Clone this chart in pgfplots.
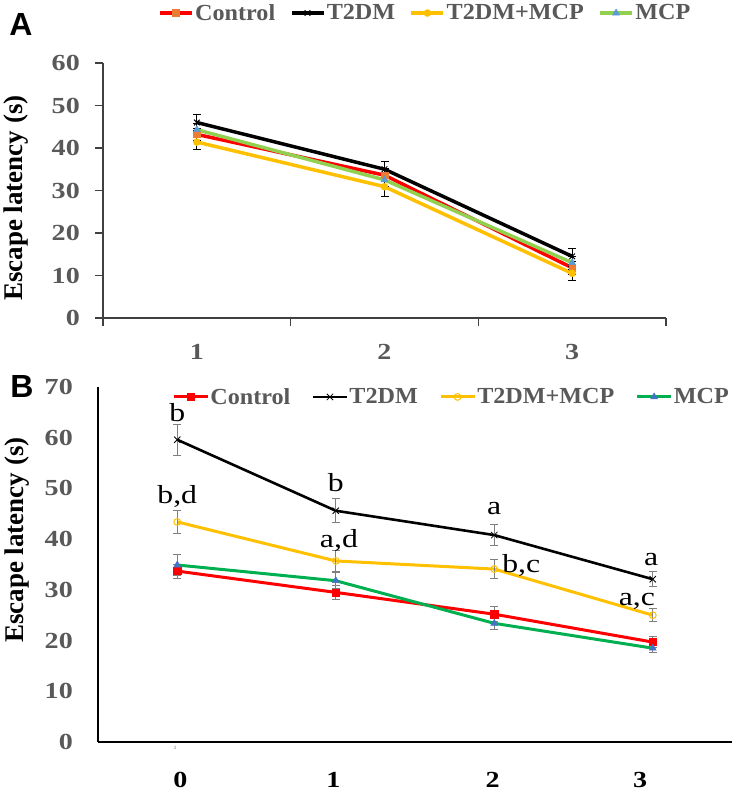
\documentclass[border=0pt]{standalone}
\usepackage{fontspec}
\setmainfont{Liberation Serif}
\setsansfont{Liberation Sans}
\newfontfamily\wide[FakeStretch=1.22]{Liberation Serif}
\newfontfamily\legf[FakeStretch=1.05]{Liberation Serif}
\usepackage{pgfplots}
\pgfplotsset{compat=1.18}
\definecolor{txtgray}{HTML}{595959}
\definecolor{axgray}{HTML}{404040}
\definecolor{cRed}{HTML}{FF0000}
\definecolor{cOrange}{HTML}{ED7D31}
\definecolor{cGold}{HTML}{FFC000}
\definecolor{cLGreen}{HTML}{92D050}
\definecolor{cLBlue}{HTML}{5B9BD5}
\definecolor{cGreen}{HTML}{00B050}
\definecolor{cBlue}{HTML}{4472C4}
\definecolor{errgray}{HTML}{7F7F7F}
\begin{document}
\begin{tikzpicture}[x=1pt,y=1pt]
\useasboundingbox (0,0) rectangle (735,791);
\node[font=\sffamily\bfseries\fontsize{32}{32}\selectfont, inner sep=0pt] at (21,766) {A};
\node[font=\sffamily\bfseries\fontsize{32}{32}\selectfont, inner sep=0pt] at (22,405) {B};
\node[font=\fontsize{5}{5}\selectfont, text=txtgray, inner sep=0pt] at (175,43) {1};

% ---------------- Panel A ----------------
\begin{axis}[
  at={(103pt,473pt)}, anchor=south west, scale only axis,
  width=563pt, height=255pt,
  xmin=0.5, xmax=3.5, ymin=0, ymax=60,
  axis lines*=left,
  axis line style={draw=axgray, line width=1.3pt},
  tick align=outside, major tick length=8pt,
  tick style={draw=axgray, line width=1.3pt},
  xtick={0.5,1.5,2.5,3.5}, xticklabels={,,,},
  extra x ticks={1,2,3}, extra x tick labels={1,2,3},
  extra x tick style={tick style={draw=none}},
  ytick={0,10,20,30,40,50,60},
  /pgf/number format/assume math mode=true,
  ticklabel style={font=\wide\bfseries\fontsize{23}{23}\selectfont, text=txtgray},
  xticklabel style={anchor=center, inner sep=0pt, yshift=-26pt},
  yticklabel style={anchor=east, inner sep=0pt, xshift=-15pt},
  ylabel={Escape latency (s)},
  ylabel style={font=\bfseries\fontsize{27}{27}\selectfont, inner sep=0pt, at={(rel axis cs:-0.155,0.47)}, anchor=center},
  clip=false,
  legend columns=4,
  legend style={at={(rel axis cs:0.0977,1.196)}, anchor=west, draw=none, fill=none,
    inner sep=0pt, font=\legf\bfseries\fontsize{23}{23}\selectfont, text=txtgray,
    nodes={inner sep=1.5pt},
    /tikz/every even column/.append style={column sep=13pt}},
  legend image code/.code={\draw[#1, mark repeat=2, mark phase=2] plot coordinates {(0pt,0pt) (16pt,0pt) (32pt,0pt)};},
  error bars/y dir=both, error bars/y explicit,
  error bars/error bar style={black, line width=0.9pt},
  error bars/error mark options={black, rotate=90, mark size=4pt, line width=0.9pt},
]
\addplot[cRed, line width=3.5pt, mark=square*, mark size=3.3pt, mark options={fill=cOrange, draw=cOrange, line width=0.5pt}]
  coordinates {(1,43.2) +- (0,1.5) (2,33.6) +- (0,1.5) (3,11.8) +- (0,1.5)};
\addlegendentry{Control}
\addplot[black, line width=3.5pt, mark=x, mark size=4pt, mark options={line width=1pt}]
  coordinates {(1,46.0) +- (0,1.9) (2,35.0) +- (0,1.9) (3,14.5) +- (0,1.9)};
\addlegendentry{T2DM}
\addplot[cGold, line width=3.5pt, mark=*, mark size=3.5pt, mark options={fill=cGold, draw=cGold, line width=0.5pt}]
  coordinates {(1,41.4) +- (0,1.8) (2,30.9) +- (0,2.2) (3,10.5) +- (0,1.6)};
\addlegendentry{T2DM+MCP}
\addplot[cLGreen, line width=3.5pt, mark=triangle*, mark size=4pt, mark options={fill=cLBlue, draw=cLBlue, line width=0.5pt}]
  coordinates {(1,44.3) +- (0,1.5) (2,32.5) +- (0,1.5) (3,13.0) +- (0,1.5)};
\addlegendentry{MCP}
\end{axis}

% ---------------- Panel B ----------------
\begin{axis}[
  at={(98pt,49pt)}, anchor=south west, scale only axis,
  width=634pt, height=355pt,
  xmin=-0.5, xmax=3.5, ymin=0, ymax=70,
  axis lines*=left,
  axis line style={draw=black, line width=2pt},
  major tick length=0pt,
  xtick={0.02,0.985,1.99,2.92}, xticklabels={0,1,2,3},
  ytick={0,10,20,30,40,50,60,70},
  /pgf/number format/assume math mode=true,
  ticklabel style={font=\wide\bfseries\fontsize{23}{23}\selectfont, text=txtgray},
  xticklabel style={anchor=center, inner sep=0pt, yshift=-38pt, text=black},
  yticklabel style={anchor=east, inner sep=0pt, xshift=-25pt},
  ylabel={Escape latency (s)},
  ylabel style={font=\bfseries\fontsize{27}{27}\selectfont, inner sep=0pt, at={(rel axis cs:-0.127,0.569)}, anchor=center},
  clip=false,
  legend columns=4,
  legend style={at={(rel axis cs:0.1167,0.972)}, anchor=west, draw=none, fill=none,
    inner sep=0pt, font=\legf\bfseries\fontsize{23}{23}\selectfont, text=txtgray,
    nodes={inner sep=1.2pt},
    /tikz/every even column/.append style={column sep=20pt}},
  legend image code/.code={\draw[#1, mark repeat=2, mark phase=2] plot coordinates {(0pt,0pt) (17pt,0pt) (34pt,0pt)};},
  error bars/y dir=both, error bars/y explicit,
  error bars/error bar style={errgray, line width=0.9pt},
  error bars/error mark options={errgray, rotate=90, mark size=4pt, line width=0.9pt},
]
\addplot[cRed, line width=3pt, mark=square*, mark size=3.6pt, mark options={fill=cRed, draw=cRed, line width=0.5pt}]
  coordinates {(0,33.7) +- (0,1.4) (1,29.5) +- (0,1.3) (2,25.2) +- (0,1.5) (3,19.7) +- (0,1.1)};
\addlegendentry{Control}
\addplot[black, line width=2.6pt, mark=x, mark size=4.5pt, mark options={line width=0.8pt}]
  coordinates {(0,59.6) +- (0,3.0) (1,45.6) +- (0,2.4) (2,40.8) +- (0,2.0) (3,32.1) +- (0,1.5)};
\addlegendentry{T2DM}
\addplot[cGold, line width=3pt, mark=o, mark size=3.4pt, mark options={fill=white, draw=cGold, line width=1pt}]
  coordinates {(0,43.4) +- (0,2.2) (1,35.7) +- (0,2.0) (2,34.1) +- (0,1.8) (3,25.0) +- (0,1.3)};
\addlegendentry{T2DM+MCP}
\addplot[cGreen, line width=3pt, mark=triangle*, mark size=4pt, mark options={fill=cBlue, draw=cBlue, line width=0.5pt}]
  coordinates {(0,34.9) +- (0,2.0) (1,31.8) +- (0,1.6) (2,23.4) +- (0,1.2) (3,18.5) +- (0,0.8)};
\addlegendentry{MCP}
\begin{scope}[every node/.style={font=\wide\fontsize{26}{26}\selectfont, anchor=base, inner sep=0pt}]
\node at (axis cs:0,63.1) {b};
\node at (axis cs:0,47.1) {b,d};
\node at (axis cs:1,49.3) {b};
\node at (axis cs:1.02,38.3) {a,d};
\node at (axis cs:2,44.8) {a};
\node at (axis cs:2.17,33.5) {b,c};
\node at (axis cs:2.99,34.9) {a};
\node at (axis cs:2.9,27.0) {a,c};
\end{scope}
\end{axis}
\end{tikzpicture}
\end{document}
